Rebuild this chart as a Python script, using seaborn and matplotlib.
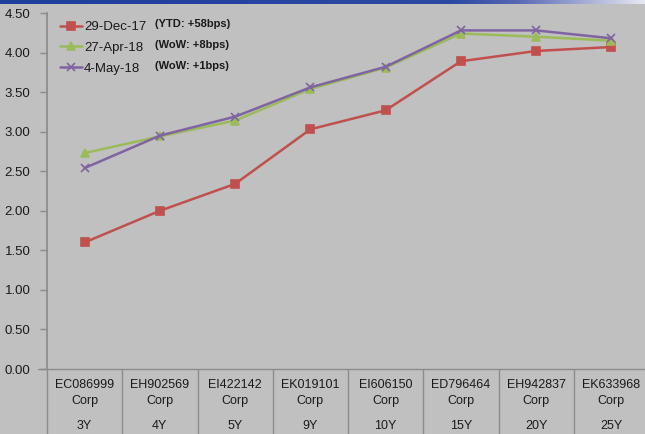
import numpy as np
import pandas as pd
import matplotlib
matplotlib.use("Agg")
import matplotlib.pyplot as plt
import matplotlib.transforms as mtransforms
from matplotlib.colors import LinearSegmentedColormap
import seaborn as sns

# data
bonds = ["EC086999", "EH902569", "EI422142", "EK019101", "EI606150", "ED796464", "EH942837", "EK633968"]
tenors = ["3Y", "4Y", "5Y", "9Y", "10Y", "15Y", "20Y", "25Y"]
dec17 = [1.60, 2.00, 2.34, 3.03, 3.27, 3.89, 4.02, 4.07]
apr18 = [2.73, 2.94, 3.14, 3.54, 3.81, 4.24, 4.20, 4.15]
may18 = [2.54, 2.95, 3.19, 3.56, 3.82, 4.28, 4.28, 4.18]
series_names = ["29-Dec-17", "27-Apr-18", "4-May-18"]
notes = ["(YTD: +58bps)", "(WoW: +8bps)", "(WoW: +1bps)"]

pos = np.arange(len(bonds))

sns.set_theme(style="white")
plt.rcParams["font.family"] = ["Liberation Sans", "DejaVu Sans"]

bg = "#C0C0C0"
grid_col = "#8C8C8C"
txt = "#1A1A1A"
fig = plt.figure(figsize=(6.45, 4.34), dpi=100)
fig.patch.set_facecolor(bg)

# blue strip along the top edge
strip = fig.add_axes([0, 1 - 4 / 434, 1, 4 / 434])
cmap = LinearSegmentedColormap.from_list(
    "strip", [(0, "#1E3E9C"), (0.7, "#2A49A2"), (0.8, "#5666B2"), (1, "#E6E8F2")])
strip.imshow(np.linspace(0, 1, 256)[None, :], aspect="auto", cmap=cmap)
strip.axis("off")

ax = fig.add_axes([47 / 645, 1 - 369 / 434, 602 / 645, 356 / 434])
ax.set_facecolor(bg)

colors = ["#C0504D", "#9BBB59", "#8064A2"]
markers = ["s", "^", "x"]
for name, vals, c, m in zip(series_names, [dec17, apr18, may18], colors, markers):
    sns.lineplot(x=pos, y=vals, color=c, marker=m, markersize=6,
                 markeredgecolor=c, markeredgewidth=1.2, linewidth=1.8,
                 label=name, ax=ax)

ax.set_xlim(-0.5, len(bonds) - 0.5)
ax.set_ylim(0, 4.5)
ax.set_yticks(np.arange(0, 4.51, 0.5))
ax.set_yticklabels([f"{v:.2f}" for v in np.arange(0, 4.51, 0.5)], fontsize=9.5, color=txt)
ax.set_xticks([])
ax.set_xlabel("")
ax.set_ylabel("")
ax.tick_params(axis="y", length=5, width=1, color=grid_col, direction="out", pad=7, left=True)
for s in ["top", "right", "bottom"]:
    ax.spines[s].set_visible(False)
ax.spines["left"].set_color(grid_col)

# category table below the axis
trans = mtransforms.blended_transform_factory(ax.transData, ax.transAxes)
px = 1 / 356
ax.plot([-0.5 - 9 / 75.3, len(bonds) - 0.5], [0, 0], color=grid_col, lw=1,
        transform=trans, clip_on=False)
for b in np.arange(len(bonds) + 1) - 0.5:
    ax.plot([b, b], [0, -70 * px], color=grid_col, lw=1, transform=trans, clip_on=False)
for p, code, ten in zip(pos, bonds, tenors):
    ax.text(p, -16 * px, code, ha="center", va="center", fontsize=9, color=txt, transform=trans)
    ax.text(p, -32 * px, "Corp", ha="center", va="center", fontsize=9, color=txt, transform=trans)
    ax.text(p, -57 * px, ten, ha="center", va="center", fontsize=9, color=txt, transform=trans)

leg = ax.legend(loc="upper left", bbox_to_anchor=(0.008, 1.0), frameon=False,
                fontsize=9.5, handlelength=1.7, handletextpad=0.15,
                labelspacing=0.65, borderaxespad=0.2)
for t in leg.get_texts():
    t.set_color(txt)
for i, note in enumerate(notes):
    ax.text(108 / 602, 1 - (11 + 21 * i) / 356, note, transform=ax.transAxes,
            fontsize=8, fontweight="bold", va="center", color=txt)

fig.savefig("out.png", dpi=100, facecolor=bg)
